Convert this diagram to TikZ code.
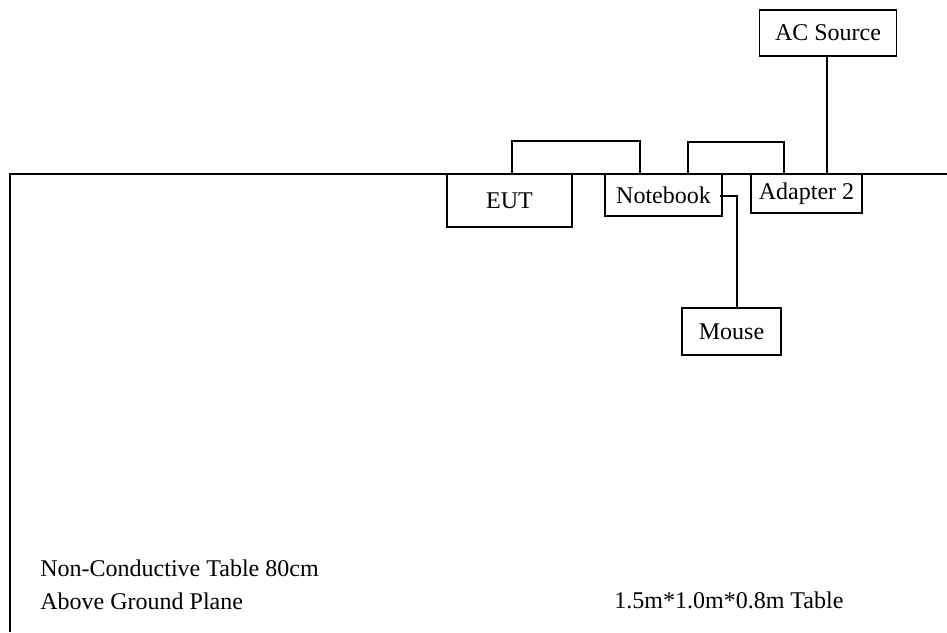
\documentclass[tikz,border=0pt]{standalone}
\usepackage{fontspec}
\setmainfont{Liberation Serif}
\usetikzlibrary{calc}

\tikzset{
	unit/.style={draw, line width=0.7pt, inner sep=0pt, font=\fontsize{12}{14}\selectfont},
	cable/.style={line width=0.7pt},
	note/.style={anchor=base west, inner sep=0pt, font=\fontsize{12}{14}\selectfont}
}

\begin{document}
\begin{tikzpicture}[x=0.5pt,y=-0.5pt]
	\useasboundingbox (0,0) rectangle (947,632);
	%table
		\draw[cable] (947,174) -- (10,174) -- (10,632);
	%devices
		\node[unit, minimum width=62.5pt, minimum height=26.5pt] (eut) at (509.5,200.5) {EUT};
		\node[unit, minimum width=58.5pt, minimum height=21pt] (nb) at (663.5,195) {Notebook};
		\node[unit, minimum width=55.5pt, minimum height=19.5pt] (adp) at (806.5,193.5) {Adapter 2};
		\node[unit, minimum width=68.5pt, minimum height=23pt] (ac) at (828,33) {AC Source};
		\node[unit, minimum width=49.5pt, minimum height=23.5pt] (mouse) at (731.5,331.5) {Mouse};
	%cables
		\draw[cable] ($(eut.north)+(2.5,0)$) -- ++(0,-32.5) -| ($(nb.north)+(-23.5,0)$);
		\draw[cable] ($(nb.north)+(24.5,0)$) -- ++(0,-31.5) -| ($(adp.north)+(-22.5,0)$);
		\draw[cable] ($(ac.south)+(-1,0)$) -- ($(adp.north)+(20.5,0)$);
		\draw[cable] ($(nb.east)+(-3,1)$) -| ($(mouse.north)+(5.5,0)$);
	%labels
		\node[note] (tbl1) at (40,576) {Non-Conductive Table 80cm};
		\node[note] (tbl2) at (40,609) {Above Ground Plane};
		\node[note] (size) at (614,608) {1.5m*1.0m*0.8m Table};
\end{tikzpicture}
\end{document}
